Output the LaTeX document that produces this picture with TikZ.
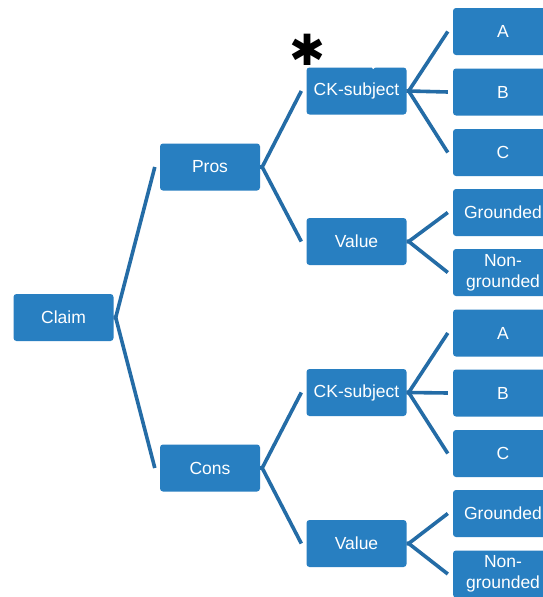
\documentclass[tikz,border=0pt]{standalone}
\usepackage{fontspec}
\setmainfont{Liberation Sans}
\newfontfamily\starfont{DejaVu Sans}
\definecolor{boxblue}{RGB}{40,127,193}
\definecolor{lineblue}{RGB}{36,108,166}
\tikzset{
  box/.style={fill=boxblue, rounded corners=3pt, minimum width=100pt, minimum height=47pt,
    inner sep=0pt, text=white, font=\fontsize{17.5}{21}\selectfont, align=center},
  conn/.style={draw=lineblue, line width=3.6pt, line join=miter},
}
\newcommand{\fan}[2]{%
  \coordinate (#1-j) at ([xshift=2pt]#1.east);
  \foreach \c in {#2} {\draw[conn] (#1.east) -- (#1-j) -- ([xshift=-5pt]\c.west);}
}
\begin{document}
\begin{tikzpicture}[x=1pt,y=-1pt]
\clip (0,0) rectangle (543,597);
\fill[white] (0,0) rectangle (543,597);
% level 0
\node[box] (claim) at (63.5,317.5) {Claim};
% level 1
\node[box] (pros) at (210,167) {Pros};
\node[box] (cons) at (210,468) {Cons};
% level 2
\node[box] (ck1) at (356.5,91) {CK-subject};
\node[box] (val1) at (356.5,241.5) {Value};
\node[box] (ck2) at (356.5,392.5) {CK-subject};
\node[box] (val2) at (356.5,543.5) {Value};
% level 3 top
\node[box] (a1) at (503,31.5) {A};
\node[box] (b1) at (503,92) {B};
\node[box] (c1) at (503,152.5) {C};
\node[box] (g1) at (503,212.5) {Grounded};
\node[box] (n1) at (503,272.5) {Non-\\grounded};
% level 3 bottom
\node[box] (a2) at (503,333) {A};
\node[box] (b2) at (503,393) {B};
\node[box] (c2) at (503,453.5) {C};
\node[box] (g2) at (503,513.5) {Grounded};
\node[box] (n2) at (503,574) {Non-\\grounded};
% connectors
\fan{claim}{pros,cons}
\fan{pros}{ck1,val1}
\fan{cons}{ck2,val2}
\fan{ck1}{a1,b1,c1}
\fan{val1}{g1,n1}
\fan{ck2}{a2,b2,c2}
\fan{val2}{g2,n2}
% small white mark on CK-subject
\draw[white, line width=2pt] ([xshift=16pt,yshift=-1pt]ck1.north) -- ([xshift=28pt,yshift=9pt]ck1.north);
% asterisk
\node[inner sep=0pt, font=\starfont\fontsize{43}{43}\selectfont] (star) at (308,50) {✱};
\end{tikzpicture}
\end{document}
